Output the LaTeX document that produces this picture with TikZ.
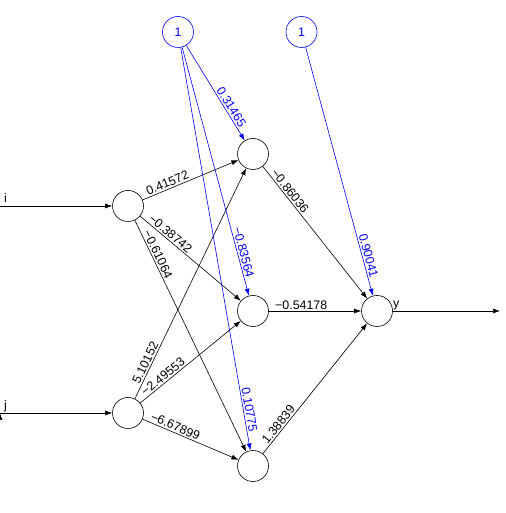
\documentclass[tikz,border=0pt]{standalone}
\usepackage{fontspec}
\setmainfont{Liberation Sans}
\usetikzlibrary{positioning,arrows.meta}

\begin{document}
\begin{tikzpicture}[x=1pt,y=1pt]
    \begin{scope}[>={Latex[length=7pt,width=5pt]}, font=\fontsize{12.4}{15}\selectfont,
    		neuron/.style={circle,draw,line width=0.6pt,minimum size=31pt,inner sep=0pt},
    		bias/.style={neuron,draw=blue,text=blue},
    		arrow/.style={black, line width=0.6pt, ->},
    		barrow/.style={blue, line width=0.6pt, ->},
    		wlab/.style={sloped,anchor=south west,pos=0.05,inner sep=1.5pt,text=black},
    		blab/.style={sloped,anchor=south east,inner sep=1.5pt,text=blue},
    		lab/.style={anchor=base west,inner sep=0pt}]
    
    \useasboundingbox (0,0) rectangle (505,513);
    
    \node[neuron](in1) at (128,307) {};
    \node[neuron](in2) at (128,100) {};
    \node[neuron](h1) at (253,359) {};
    \node[neuron](h2) at (253,202) {};
    \node[neuron](h3) at (253,47) {};
    \node[neuron](out) at (377,202) {};
    \node[bias](b1) at (178,481) {1};
    \node[bias](b2) at (301.5,481) {1};
    
    \coordinate (i-start) at (0,307);
    \coordinate (j-start) at (0,100);
    \coordinate (y-end) at (500,202);
    
    \node[lab](li) at (4,310) {i};
    \node[lab](lj) at (4,103) {j};
    \node[lab](ly) at ([yshift=3pt]out.east) {y};
    
    \draw[arrow]
    (i-start) edge (in1)
    (j-start) edge (in2)
    (out) edge (y-end)
    (in1) edge node[wlab]{0.41572} (h1)
    (in1) edge node[wlab]{−0.38742} (h2)
    (in1) edge node[wlab]{−0.61064} (h3)
    (in2) edge node[wlab]{5.10152} (h1)
    (in2) edge node[wlab]{−2.49553} (h2)
    (in2) edge node[wlab]{−6.67899} (h3)
    (h1) edge node[wlab]{−0.86036} (out)
    (h2) edge node[wlab]{−0.54178} (out)
    (h3) edge node[wlab]{1.38839} (out);
    
    \draw[barrow]
    (b1) edge node[blab,pos=0.9]{0.31465} (h1)
    (b1) edge node[blab,pos=0.94]{−0.83564} (h2)
    (b1) edge node[blab,pos=0.96]{0.10775} (h3)
    (b2) edge node[blab,pos=0.94]{0.90041} (out);
    
    \end{scope} 
\end{tikzpicture}
\end{document}
